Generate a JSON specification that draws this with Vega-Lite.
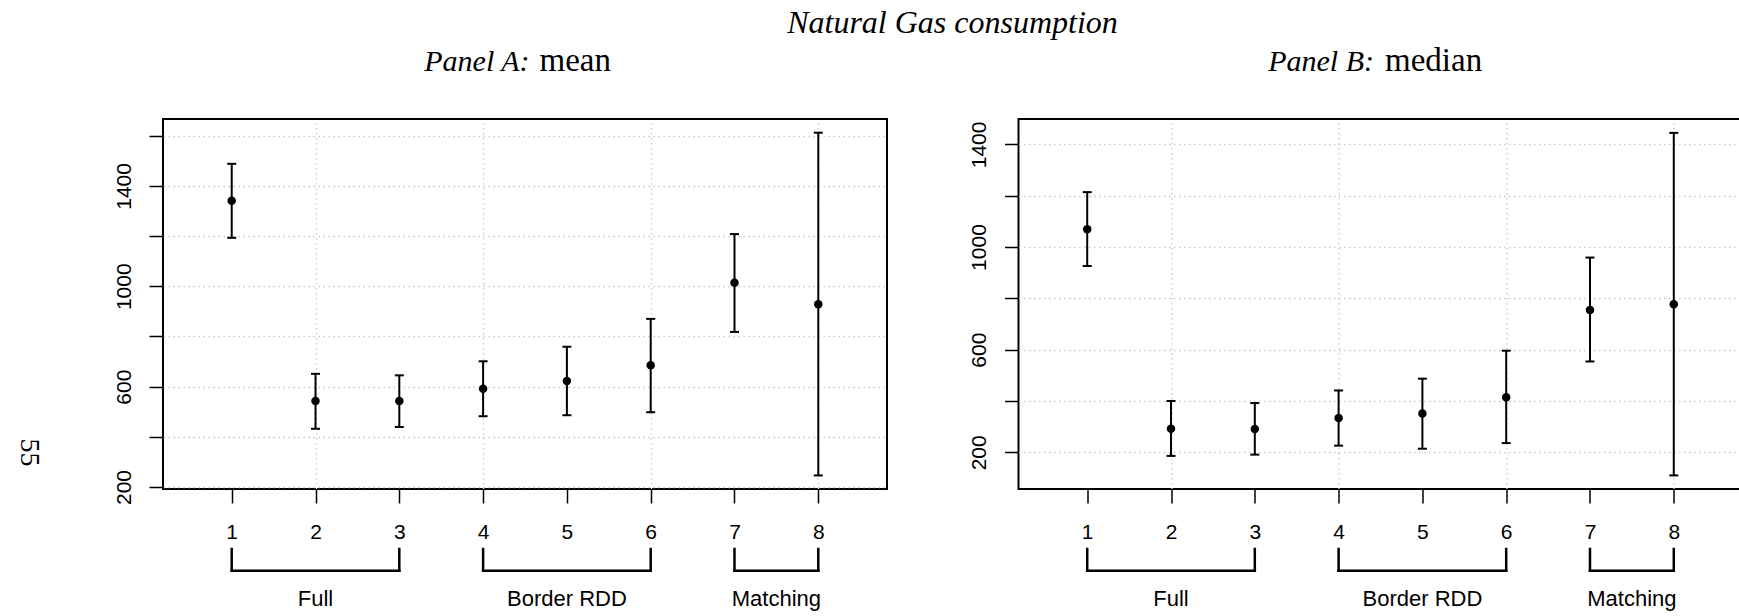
{
  "$schema": "https://vega.github.io/schema/vega-lite/v6.json",
  "background": "white",
  "padding": {"left": 13, "top": 5, "right": 0, "bottom": 0},
  "datasets": {
    "mean": [
      {"spec": 1, "group": "Full", "est": 1341, "lo": 1193, "hi": 1488},
      {"spec": 2, "group": "Full", "est": 543, "lo": 432, "hi": 651},
      {"spec": 3, "group": "Full", "est": 543, "lo": 439, "hi": 645},
      {"spec": 4, "group": "Border RDD", "est": 592, "lo": 482, "hi": 701},
      {"spec": 5, "group": "Border RDD", "est": 622, "lo": 486, "hi": 759},
      {"spec": 6, "group": "Border RDD", "est": 685, "lo": 498, "hi": 870},
      {"spec": 7, "group": "Matching", "est": 1014, "lo": 818, "hi": 1208},
      {"spec": 8, "group": "Matching", "est": 928, "lo": 246, "hi": 1612}
    ],
    "median": [
      {"spec": 1, "group": "Full", "est": 1069, "lo": 926, "hi": 1214},
      {"spec": 2, "group": "Full", "est": 292, "lo": 186, "hi": 400},
      {"spec": 3, "group": "Full", "est": 291, "lo": 191, "hi": 392},
      {"spec": 4, "group": "Border RDD", "est": 334, "lo": 226, "hi": 441},
      {"spec": 5, "group": "Border RDD", "est": 351, "lo": 214, "hi": 487},
      {"spec": 6, "group": "Border RDD", "est": 415, "lo": 236, "hi": 596},
      {"spec": 7, "group": "Matching", "est": 755, "lo": 554, "hi": 959},
      {"spec": 8, "group": "Matching", "est": 777, "lo": 110, "hi": 1445}
    ]
  },
  "columns": 2,
  "bounds": "flush",
  "spacing": {"row": 51, "column": 131.5},
  "concat": [
    {
      "width": 724, "height": 370,
      "data": {"name": "mean"},
      "view": {"stroke": "black", "strokeWidth": 2},
      "resolve": {"axis": {"x": "independent"}},
      "layer": [
        {
          "mark": {"type": "rule", "strokeWidth": 2, "color": "black"},
          "encoding": {
            "x": {"field": "spec", "type": "quantitative", "scale": {"domain": [0.18, 8.82], "nice": false, "zero": false},
              "axis": {"orient": "bottom", "values": [1, 2, 3, 4, 5, 6, 7, 8], "format": "d", "grid": false, "domain": false, "ticks": true, "tickSize": 14, "tickWidth": 1.5, "tickColor": "black", "labelFont": "Liberation Sans", "labelFontSize": 21, "labelPadding": 18, "labelColor": "black", "title": null}},
            "y": {"field": "lo", "type": "quantitative", "scale": {"domain": [192, 1666.6], "nice": false, "zero": false},
              "axis": {"values": [200, 400, 600, 800, 1000, 1200, 1400, 1600], "format": "d", "labelExpr": "datum.value % 400 == 200 ? datum.label : ''", "grid": true, "gridColor": "#c8c8c8", "gridDash": [1.5, 3.5], "gridWidth": 1.3, "domain": false, "tickSize": 14, "tickWidth": 1.5, "tickColor": "black", "labelFont": "Liberation Sans", "labelFontSize": 21, "labelAngle": 270, "labelAlign": "center", "labelBaseline": "bottom", "labelPadding": 15, "labelColor": "black",
                "title": "55", "titleFont": "Liberation Serif", "titleFontSize": 28, "titleFontWeight": "normal", "titleColor": "black", "titleAngle": 90, "titleAlign": "center", "titleBaseline": "middle", "titleX": -135, "titleY": 333}},
            "y2": {"field": "hi"}
          }
        },
        {
          "mark": {"type": "tick", "orient": "horizontal", "size": 9, "thickness": 2, "color": "black", "opacity": 1},
          "encoding": {
            "x": {"field": "spec", "type": "quantitative", "scale": {"domain": [0.18, 8.82], "nice": false, "zero": false},
              "axis": {"orient": "top", "values": [2, 4, 6, 8], "grid": true, "gridColor": "#c8c8c8", "gridDash": [1.5, 3.5], "gridWidth": 1.3, "domain": false, "ticks": false, "labels": false,
                "title": "mean", "titleFont": "Liberation Serif", "titleFontSize": 33, "titleFontWeight": "normal", "titleFontStyle": "normal", "titleColor": "black", "titleAlign": "left", "titleBaseline": "alphabetic", "titleAngle": 0, "titleX": 376, "titleY": -48.5}},
            "y": {"field": "hi", "type": "quantitative", "scale": {"domain": [192, 1666.6], "nice": false, "zero": false}}
          }
        },
        {
          "mark": {"type": "tick", "orient": "horizontal", "size": 9, "thickness": 2, "color": "black", "opacity": 1},
          "encoding": {
            "x": {"field": "spec", "type": "quantitative", "scale": {"domain": [0.18, 8.82], "nice": false, "zero": false},
              "axis": {"orient": "top", "values": [], "grid": false, "domain": false, "ticks": false, "labels": false,
                "title": "Panel A:", "titleFont": "Liberation Serif", "titleFontSize": 30, "titleFontWeight": "normal", "titleFontStyle": "italic", "titleColor": "black", "titleAlign": "right", "titleBaseline": "alphabetic", "titleAngle": 0, "titleX": 366, "titleY": -48.5}},
            "y": {"field": "lo", "type": "quantitative", "scale": {"domain": [192, 1666.6], "nice": false, "zero": false}}
          }
        },
        {
          "mark": {"type": "point", "filled": true, "size": 72, "color": "black", "opacity": 1},
          "encoding": {
            "x": {"field": "spec", "type": "quantitative", "scale": {"domain": [0.18, 8.82], "nice": false, "zero": false},
              "axis": {"orient": "top", "values": [], "grid": false, "domain": false, "ticks": false, "labels": false,
                "title": "Natural Gas consumption", "titleFont": "Liberation Serif", "titleFontSize": 32, "titleFontWeight": "normal", "titleFontStyle": "italic", "titleColor": "black", "titleAlign": "center", "titleBaseline": "alphabetic", "titleAngle": 0, "titleX": 789, "titleY": -87}},
            "y": {"field": "est", "type": "quantitative", "scale": {"domain": [192, 1666.6], "nice": false, "zero": false}}
          }
        }
      ]
    },
    {
      "width": 724, "height": 370,
      "data": {"name": "median"},
      "view": {"stroke": "black", "strokeWidth": 2},
      "resolve": {"axis": {"x": "independent"}},
      "layer": [
        {
          "mark": {"type": "rule", "strokeWidth": 2, "color": "black"},
          "encoding": {
            "x": {"field": "spec", "type": "quantitative", "scale": {"domain": [0.18, 8.82], "nice": false, "zero": false},
              "axis": {"orient": "bottom", "values": [1, 2, 3, 4, 5, 6, 7, 8], "format": "d", "grid": false, "domain": false, "ticks": true, "tickSize": 14, "tickWidth": 1.5, "tickColor": "black", "labelFont": "Liberation Sans", "labelFontSize": 21, "labelPadding": 18, "labelColor": "black", "title": null}},
            "y": {"field": "lo", "type": "quantitative", "scale": {"domain": [57, 1499], "nice": false, "zero": false},
              "axis": {"values": [200, 400, 600, 800, 1000, 1200, 1400], "format": "d", "labelExpr": "datum.value % 400 == 200 ? datum.label : ''", "grid": true, "gridColor": "#c8c8c8", "gridDash": [1.5, 3.5], "gridWidth": 1.3, "domain": false, "tickSize": 14, "tickWidth": 1.5, "tickColor": "black", "labelFont": "Liberation Sans", "labelFontSize": 21, "labelAngle": 270, "labelAlign": "center", "labelBaseline": "bottom", "labelPadding": 15, "labelColor": "black", "title": null}},
            "y2": {"field": "hi"}
          }
        },
        {
          "mark": {"type": "tick", "orient": "horizontal", "size": 9, "thickness": 2, "color": "black", "opacity": 1},
          "encoding": {
            "x": {"field": "spec", "type": "quantitative", "scale": {"domain": [0.18, 8.82], "nice": false, "zero": false},
              "axis": {"orient": "top", "values": [2, 4, 6, 8], "grid": true, "gridColor": "#c8c8c8", "gridDash": [1.5, 3.5], "gridWidth": 1.3, "domain": false, "ticks": false, "labels": false,
                "title": "median", "titleFont": "Liberation Serif", "titleFontSize": 33, "titleFontWeight": "normal", "titleFontStyle": "normal", "titleColor": "black", "titleAlign": "left", "titleBaseline": "alphabetic", "titleAngle": 0, "titleX": 366, "titleY": -48.5}},
            "y": {"field": "hi", "type": "quantitative", "scale": {"domain": [57, 1499], "nice": false, "zero": false}}
          }
        },
        {
          "mark": {"type": "tick", "orient": "horizontal", "size": 9, "thickness": 2, "color": "black", "opacity": 1},
          "encoding": {
            "x": {"field": "spec", "type": "quantitative", "scale": {"domain": [0.18, 8.82], "nice": false, "zero": false},
              "axis": {"orient": "top", "values": [], "grid": false, "domain": false, "ticks": false, "labels": false,
                "title": "Panel B:", "titleFont": "Liberation Serif", "titleFontSize": 30, "titleFontWeight": "normal", "titleFontStyle": "italic", "titleColor": "black", "titleAlign": "right", "titleBaseline": "alphabetic", "titleAngle": 0, "titleX": 355, "titleY": -48.5}},
            "y": {"field": "lo", "type": "quantitative", "scale": {"domain": [57, 1499], "nice": false, "zero": false}}
          }
        },
        {
          "mark": {"type": "point", "filled": true, "size": 72, "color": "black", "opacity": 1},
          "encoding": {
            "x": {"field": "spec", "type": "quantitative", "scale": {"domain": [0.18, 8.82], "nice": false, "zero": false}, "axis": null},
            "y": {"field": "est", "type": "quantitative", "scale": {"domain": [57, 1499], "nice": false, "zero": false}}
          }
        }
      ]
    },
    {
      "width": 724, "height": 75,
      "data": {"name": "mean"},
      "view": {"stroke": null},
      "layer": [
        {
          "mark": {"type": "rule", "strokeWidth": 2.5, "color": "black", "strokeCap": "square"},
          "encoding": {
            "x": {"aggregate": "min", "field": "spec", "type": "quantitative", "scale": {"domain": [0.18, 8.82], "nice": false, "zero": false}, "axis": null},
            "x2": {"aggregate": "max", "field": "spec"},
            "y": {"datum": 0.59, "type": "quantitative", "scale": {"domain": [0, 1], "nice": false, "zero": false}, "axis": null},
            "detail": {"field": "group"}
          }
        },
        {
          "mark": {"type": "rule", "strokeWidth": 2.5, "color": "black", "strokeCap": "square"},
          "encoding": {
            "x": {"aggregate": "min", "field": "spec", "type": "quantitative", "scale": {"domain": [0.18, 8.82], "nice": false, "zero": false}, "axis": null},
            "y": {"datum": 0.59, "type": "quantitative", "scale": {"domain": [0, 1], "nice": false, "zero": false}, "axis": null},
            "y2": {"datum": 0.88},
            "detail": {"field": "group"}
          }
        },
        {
          "mark": {"type": "rule", "strokeWidth": 2.5, "color": "black", "strokeCap": "square"},
          "encoding": {
            "x": {"aggregate": "max", "field": "spec", "type": "quantitative", "scale": {"domain": [0.18, 8.82], "nice": false, "zero": false}, "axis": null},
            "y": {"datum": 0.59, "type": "quantitative", "scale": {"domain": [0, 1], "nice": false, "zero": false}, "axis": null},
            "y2": {"datum": 0.88},
            "detail": {"field": "group"}
          }
        },
        {
          "mark": {"type": "text", "font": "Liberation Sans", "fontSize": 22, "baseline": "middle", "align": "center", "color": "black"},
          "encoding": {
            "x": {"aggregate": "mean", "field": "spec", "type": "quantitative", "scale": {"domain": [0.18, 8.82], "nice": false, "zero": false}, "axis": null},
            "y": {"datum": 0.213, "type": "quantitative", "scale": {"domain": [0, 1], "nice": false, "zero": false}, "axis": null},
            "text": {"field": "group", "type": "nominal"}
          }
        }
      ]
    },
    {
      "width": 724, "height": 75,
      "data": {"name": "median"},
      "view": {"stroke": null},
      "layer": [
        {
          "mark": {"type": "rule", "strokeWidth": 2.5, "color": "black", "strokeCap": "square"},
          "encoding": {
            "x": {"aggregate": "min", "field": "spec", "type": "quantitative", "scale": {"domain": [0.18, 8.82], "nice": false, "zero": false}, "axis": null},
            "x2": {"aggregate": "max", "field": "spec"},
            "y": {"datum": 0.59, "type": "quantitative", "scale": {"domain": [0, 1], "nice": false, "zero": false}, "axis": null},
            "detail": {"field": "group"}
          }
        },
        {
          "mark": {"type": "rule", "strokeWidth": 2.5, "color": "black", "strokeCap": "square"},
          "encoding": {
            "x": {"aggregate": "min", "field": "spec", "type": "quantitative", "scale": {"domain": [0.18, 8.82], "nice": false, "zero": false}, "axis": null},
            "y": {"datum": 0.59, "type": "quantitative", "scale": {"domain": [0, 1], "nice": false, "zero": false}, "axis": null},
            "y2": {"datum": 0.88},
            "detail": {"field": "group"}
          }
        },
        {
          "mark": {"type": "rule", "strokeWidth": 2.5, "color": "black", "strokeCap": "square"},
          "encoding": {
            "x": {"aggregate": "max", "field": "spec", "type": "quantitative", "scale": {"domain": [0.18, 8.82], "nice": false, "zero": false}, "axis": null},
            "y": {"datum": 0.59, "type": "quantitative", "scale": {"domain": [0, 1], "nice": false, "zero": false}, "axis": null},
            "y2": {"datum": 0.88},
            "detail": {"field": "group"}
          }
        },
        {
          "mark": {"type": "text", "font": "Liberation Sans", "fontSize": 22, "baseline": "middle", "align": "center", "color": "black"},
          "encoding": {
            "x": {"aggregate": "mean", "field": "spec", "type": "quantitative", "scale": {"domain": [0.18, 8.82], "nice": false, "zero": false}, "axis": null},
            "y": {"datum": 0.213, "type": "quantitative", "scale": {"domain": [0, 1], "nice": false, "zero": false}, "axis": null},
            "text": {"field": "group", "type": "nominal"}
          }
        }
      ]
    }
  ],
  "config": {
    "view": {"stroke": null},
    "font": "Liberation Sans",
    "axis": {"labelColor": "black", "tickColor": "black", "titleColor": "black"}
  }
}
